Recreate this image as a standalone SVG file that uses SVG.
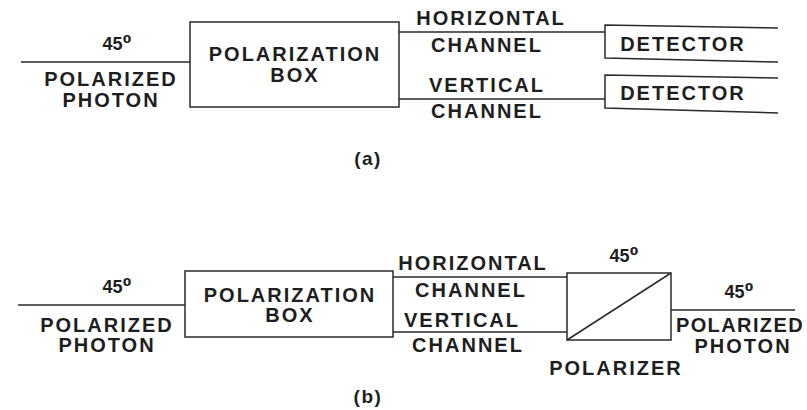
<svg xmlns="http://www.w3.org/2000/svg" width="807" height="410" viewBox="0 0 807 410">
<style>
.bg{fill:#ffffff}
.ln{fill:none;stroke:#2a2a2a;stroke-width:1.5}
.box{fill:#ffffff;stroke:#2a2a2a;stroke-width:1.5}
.t{font-family:"Liberation Sans","DejaVu Sans",Arial,sans-serif;font-weight:bold;font-size:20px;letter-spacing:2px;fill:#1e1e1e;text-anchor:middle}
.d{font-family:"Liberation Sans","DejaVu Sans",Arial,sans-serif;font-weight:bold;font-size:18px;fill:#1e1e1e;text-anchor:middle}
.cap{font-family:"Liberation Sans","DejaVu Sans",Arial,sans-serif;font-weight:bold;font-size:19px;letter-spacing:1.5px;fill:#1e1e1e;text-anchor:middle}
.sup{font-family:"DejaVu Sans",sans-serif;font-weight:bold;font-size:20px}
.tight{letter-spacing:1.4px}
</style>
<rect class="bg" x="0" y="0" width="807" height="410"/>

<g id="connectors">
  <!-- (a) -->
  <line class="ln" x1="21" y1="62" x2="190" y2="62"/>
  <line class="ln" x1="399" y1="32" x2="605" y2="32"/>
  <line class="ln" x1="399" y1="99" x2="605" y2="99"/>
  <!-- (b) -->
  <line class="ln" x1="18" y1="305" x2="185" y2="305"/>
  <line class="ln" x1="393" y1="277" x2="567" y2="277"/>
  <line class="ln" x1="393" y1="332" x2="567" y2="332"/>
  <line class="ln" x1="671" y1="310" x2="795" y2="310"/>
</g>

<!-- Diagram (a) -->
<g id="a-input-label">
  <text class="d" x="117" y="50">45<tspan class="sup">⁰</tspan></text>
  <text class="t" x="111" y="86">POLARIZED</text>
  <text class="t" x="111" y="107">PHOTON</text>
</g>
<g id="a-polarization-box">
  <rect class="box" x="190" y="22" width="209" height="85"/>
  <text class="t" x="295" y="61">POLARIZATION</text>
  <text class="t" x="295" y="82">BOX</text>
</g>
<g id="a-channel-labels">
  <text class="t" x="491" y="25">HORIZONTAL</text>
  <text class="t" x="487" y="52">CHANNEL</text>
  <text class="t" x="487" y="92">VERTICAL</text>
  <text class="t" x="487" y="118">CHANNEL</text>
</g>
<g id="a-detector-h">
  <path class="ln" d="M778,28 L605,25 L605,58 L778,62"/>
  <text class="t" x="683" y="51">DETECTOR</text>
</g>
<g id="a-detector-v">
  <path class="ln" d="M778,78 L605,75 L605,108 L778,113"/>
  <text class="t" x="683" y="100">DETECTOR</text>
</g>
<text class="cap" x="368" y="165">(a)</text>

<!-- Diagram (b) -->
<g id="b-input-label">
  <text class="d" x="117" y="293">45<tspan class="sup">⁰</tspan></text>
  <text class="t" x="107" y="332">POLARIZED</text>
  <text class="t" x="107" y="352">PHOTON</text>
</g>
<g id="b-polarization-box">
  <rect class="box" x="185" y="271" width="208" height="66"/>
  <text class="t" x="290" y="302">POLARIZATION</text>
  <text class="t" x="290" y="322">BOX</text>
</g>
<g id="b-channel-labels">
  <text class="t" x="473" y="270">HORIZONTAL</text>
  <text class="t" x="471" y="297">CHANNEL</text>
  <text class="t" x="462" y="327">VERTICAL</text>
  <text class="t" x="468" y="352">CHANNEL</text>
</g>
<g id="b-polarizer">
  <rect class="box" x="567" y="273" width="104" height="67"/>
  <line class="ln" x1="567" y1="340" x2="671" y2="273"/>
  <text class="d" x="624" y="262">45<tspan class="sup">⁰</tspan></text>
  <text class="t" x="616" y="375">POLARIZER</text>
</g>
<g id="b-output-label">
  <text class="d" x="739" y="298">45<tspan class="sup">⁰</tspan></text>
  <text class="t tight" x="740" y="332">POLARIZED</text>
  <text class="t" x="743" y="353">PHOTON</text>
</g>
<text class="cap" x="368" y="403">(b)</text>
</svg>
